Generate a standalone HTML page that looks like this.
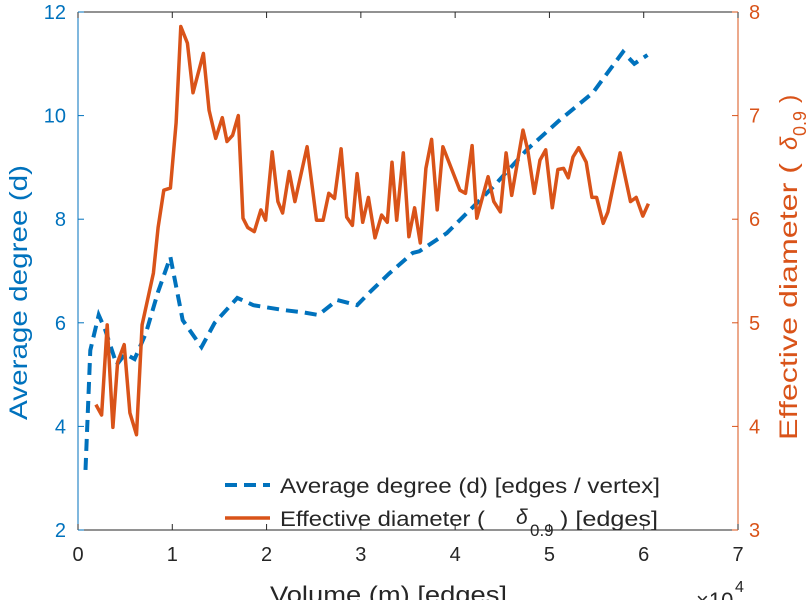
<!DOCTYPE html>
<html><head><meta charset="utf-8"><style>
body{margin:0;background:#fff;width:812px;height:600px;overflow:hidden}
svg{display:block;font-family:"Liberation Sans",sans-serif}
</style></head><body>
<svg id="chart" width="812" height="600">
<g id="axes"></g><g id="series"></g><g id="legend"></g>
</svg>
<script>
const xTicks=[0,1,2,3,4,5,6,7];
const leftTicks=[2,4,6,8,10,12];
const rightTicks=[3,4,5,6,7,8];
const degX=[0.08,0.13,0.22,0.29,0.41,0.5,0.6,0.72,0.85,0.98,1.11,1.31,1.45,1.69,1.86,2.17,2.39,2.55,2.75,2.96,3.1,3.3,3.55,3.62,3.91,4.4,4.76,5.1,5.46,5.78,5.9,6.04];
const degY=[3.16,5.47,6.15,5.86,5.19,5.4,5.3,5.8,6.6,7.27,6.05,5.53,6.0,6.48,6.34,6.25,6.2,6.15,6.44,6.34,6.6,6.95,7.35,7.38,7.73,8.62,9.34,9.9,10.44,11.23,11.0,11.17];
const diaX=[0.19,0.25,0.31,0.37,0.42,0.49,0.55,0.62,0.68,0.8,0.85,0.91,0.98,1.04,1.09,1.16,1.22,1.33,1.39,1.46,1.53,1.58,1.64,1.70,1.75,1.80,1.87,1.94,1.99,2.06,2.12,2.17,2.24,2.30,2.43,2.53,2.60,2.66,2.72,2.79,2.85,2.91,2.96,3.02,3.08,3.15,3.22,3.28,3.33,3.38,3.45,3.51,3.57,3.63,3.69,3.75,3.81,3.87,4.05,4.11,4.18,4.23,4.35,4.41,4.48,4.54,4.60,4.72,4.77,4.84,4.90,4.96,5.03,5.09,5.15,5.20,5.25,5.31,5.39,5.45,5.50,5.57,5.62,5.75,5.86,5.92,5.99,6.05];
const diaY=[4.21,4.11,4.98,3.99,4.62,4.79,4.13,3.92,4.98,5.48,5.92,6.28,6.30,6.93,7.86,7.70,7.22,7.60,7.05,6.78,6.98,6.75,6.81,7.0,6.01,5.92,5.88,6.09,5.99,6.65,6.17,6.06,6.46,6.17,6.70,5.99,5.99,6.25,6.20,6.68,6.02,5.94,6.44,5.97,6.21,5.82,6.04,5.97,6.55,5.99,6.64,5.83,6.11,5.77,6.49,6.77,6.09,6.70,6.28,6.25,6.71,6.01,6.41,6.17,6.07,6.64,6.23,6.86,6.67,6.25,6.57,6.67,6.11,6.48,6.49,6.40,6.60,6.69,6.55,6.21,6.21,5.96,6.07,6.64,6.17,6.21,6.03,6.15];
const L=78,R=738,T=12,B=530;
const sx=v=>L+(v-0)/(7-0)*(R-L);
const syL=v=>B-(v-2)/(12-2)*(B-T);
const syR=v=>B-(v-3)/(8-3)*(B-T);
const NS="http://www.w3.org/2000/svg";
function mk(tag,attrs,parent,text){const e=document.createElementNS(NS,tag);for(const k in attrs)e.setAttribute(k,attrs[k]);if(text!==undefined)e.textContent=text;parent.appendChild(e);return e;}
const axes=document.getElementById('axes'),ser=document.getElementById('series'),leg=document.getElementById('legend');
const BL="#0072BD",OR="#D95319",GR="#262626";
let e;
e=mk('line',{x1:L,y1:T,x2:R,y2:T,stroke:"#262626","stroke-width":1},axes);

e=mk('line',{x1:L,y1:B,x2:R,y2:B,stroke:"#262626","stroke-width":1},axes);

e=mk('line',{x1:L,y1:T,x2:L,y2:B,stroke:BL,"stroke-width":1},axes);

e=mk('line',{x1:R,y1:T,x2:R,y2:B,stroke:OR,"stroke-width":1},axes);

xTicks.forEach(t=>{const x=sx(t);
 mk('line',{x1:x,y1:B,x2:x,y2:B-6,stroke:GR},axes);mk('line',{x1:x,y1:T,x2:x,y2:T+6,stroke:GR},axes);
 e=mk('text',{x:x,y:561,"text-anchor":"middle","font-size":20,fill:GR},axes,String(t));
 });
leftTicks.forEach(t=>{const y=syL(t);
 mk('line',{x1:L,y1:y,x2:L+6,y2:y,stroke:BL},axes);
 e=mk('text',{x:66,y:y+7,"text-anchor":"end","font-size":20,fill:BL},axes,String(t));
 });
rightTicks.forEach(t=>{const y=syR(t);
 mk('line',{x1:R,y1:y,x2:R-6,y2:y,stroke:OR},axes);
 e=mk('text',{x:749,y:y+7,"text-anchor":"start","font-size":20,fill:OR},axes,String(t));
 });
e=mk('text',{x:270,y:603,"font-size":24,fill:GR,textLength:237,lengthAdjust:"spacingAndGlyphs"},axes,"Volume (m) [edges]");

e=mk('text',{x:696,y:608,"font-size":22,fill:GR},axes,"×10");

mk('text',{x:735,y:592,"font-size":16,fill:GR},axes,"4");
e=mk('text',{x:0,y:0,"font-size":25,fill:BL,textLength:255,lengthAdjust:"spacingAndGlyphs",transform:"translate(27,420) rotate(-90)"},axes,"Average degree (d)");

e=mk('text',{x:0,y:0,"font-size":25,fill:OR,textLength:277,lengthAdjust:"spacingAndGlyphs",transform:"translate(797,440) rotate(-90)"},axes,"Effective diameter (");

mk('text',{x:0,y:0,"font-size":24,"font-style":"italic",fill:OR,transform:"translate(797,150) rotate(-90)"},axes,"δ");
mk('text',{x:0,y:0,"font-size":18,fill:OR,transform:"translate(806,136) rotate(-90)"},axes,"0.9");
mk('text',{x:0,y:0,"font-size":25,fill:OR,transform:"translate(797,103) rotate(-90)"},axes,")");
let d1=degX.map((v,i)=>(i?'L':'M')+sx(v).toFixed(1)+','+syL(degY[i]).toFixed(1)).join('');
e=mk('path',{d:d1,fill:"none",stroke:BL,"stroke-width":4,"stroke-dasharray":"12,7"},ser);

let d2=diaX.map((v,i)=>(i?'L':'M')+sx(v).toFixed(1)+','+syR(diaY[i]).toFixed(1)).join('');
e=mk('path',{d:d2,fill:"none",stroke:OR,"stroke-width":3.5,"stroke-linejoin":"round"},ser);

e=mk('line',{x1:225,y1:485,x2:270,y2:485,stroke:BL,"stroke-width":4,"stroke-dasharray":"12,7"},leg);

e=mk('text',{x:280,y:493,"font-size":21,fill:GR,textLength:380,lengthAdjust:"spacingAndGlyphs"},leg,"Average degree (d) [edges / vertex]");

e=mk('line',{x1:225,y1:518,x2:270,y2:518,stroke:OR,"stroke-width":3.5},leg);

e=mk('text',{x:280,y:526,"font-size":21,fill:GR,textLength:205,lengthAdjust:"spacingAndGlyphs"},leg,"Effective diameter (");

mk('text',{x:516,y:524,"font-size":21,"font-style":"italic",fill:GR},leg,"δ");
mk('text',{x:530,y:536,"font-size":17,fill:GR},leg,"0.9");
mk('text',{x:560,y:526,"font-size":21,fill:GR,textLength:98,lengthAdjust:"spacingAndGlyphs"},leg,") [edges]");
</script>
</body></html>
